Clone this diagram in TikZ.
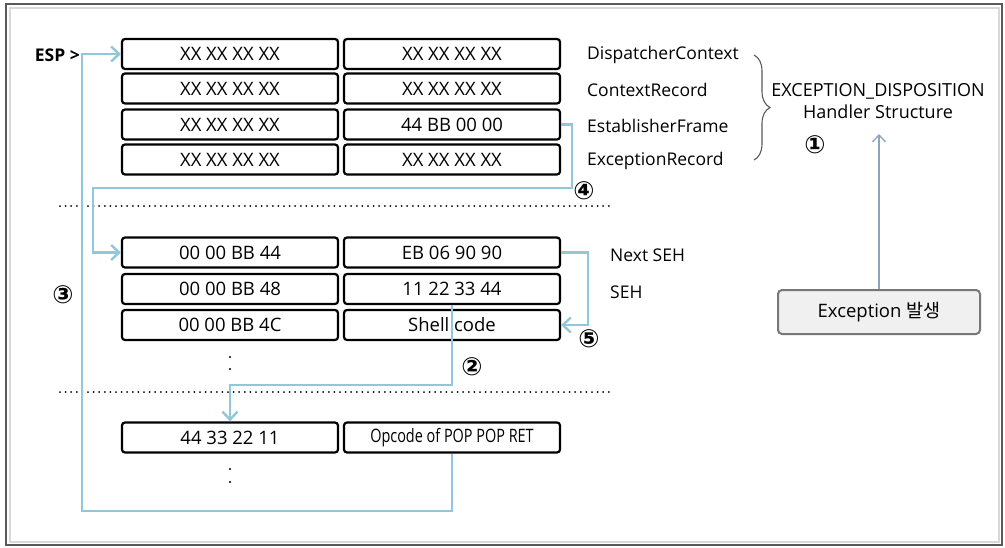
\documentclass[tikz,border=0pt]{standalone}
\usepackage{fontspec}
\usepackage{graphicx}
\setmainfont{Open Sans}
\newfontfamily\krfont{Noto Sans CJK KR}
\newfontfamily\circfont{DejaVu Sans}
\usetikzlibrary{arrows.meta,decorations.pathreplacing}
\definecolor{lblue}{HTML}{92C6DA}
\definecolor{garrow}{HTML}{8EA3BC}
\definecolor{framec}{HTML}{5A5A5A}
\definecolor{exfill}{HTML}{F0F0F0}
\definecolor{exborder}{HTML}{777777}
\begin{document}
\begin{tikzpicture}[x=1pt,y=-1pt,
  cell/.style={draw=black,line width=2.2pt,rounded corners=3pt,minimum width=216pt,minimum height=30pt,inner sep=0pt,font=\fontsize{18.5}{20}\selectfont},
  lbl/.style={anchor=west,inner sep=0pt,font=\fontsize{17.5}{20}\selectfont},
  num/.style={inner sep=0pt,font=\circfont\bfseries\fontsize{25}{26}\selectfont},
  link/.style={draw=lblue,line width=2.4pt},
  arr/.style={-{Straight Barb[length=8pt,width=15pt]}},
  dotline/.style={line width=2pt,dash pattern=on 0pt off 5.6pt,line cap=round},
  vdot/.style={fill=black},
]
\useasboundingbox (0,0) rectangle (1005,547);
\fill[white] (0,0) rectangle (1005,547);
% frame
\draw[framec,line width=2.5pt] (6,4) rectangle (1002,545);
\draw[gray!30,line width=2pt] (9.5,7.5) rectangle (998.5,541.5);

% top group
\node[cell] (a1) at (230,54) {XX XX XX XX};
\node[cell] (b1) at (452,54) {XX XX XX XX};
\node[cell] (a2) at (230,88.5) {XX XX XX XX};
\node[cell] (b2) at (452,88.5) {XX XX XX XX};
\node[cell] (a3) at (230,124.5) {XX XX XX XX};
\node[cell] (b3) at (452,124.5) {44 BB 00 00};
\node[cell] (a4) at (230,159.5) {XX XX XX XX};
\node[cell] (b4) at (452,159.5) {XX XX XX XX};

% middle group
\node[cell] (m1) at (230,252.5) {00 00 BB 44};
\node[cell] (n1) at (452,252.5) {EB 06 90 90};
\node[cell] (m2) at (230,289) {00 00 BB 48};
\node[cell] (n2) at (452,289) {11 22 33 44};
\node[cell] (m3) at (230,325) {00 00 BB 4C};
\node[cell] (n3) at (452,325) {Shell code};

% bottom group
\node[cell] (q1) at (230,437.5) {44 33 22 11};
\node[cell] (o1) at (452,437.5) {\scalebox{0.78}[1]{Opcode of POP POP RET}};

% dotted separators
\draw[dotline] (60,206) -- (610,206);
\draw[dotline] (60,392) -- (610,392);

% vertical ellipses
\fill[vdot] (230,357) circle (1.2pt);
\fill[vdot] (230,369) circle (1.2pt);
\fill[vdot] (230,469) circle (1.2pt);
\fill[vdot] (230,482) circle (1.2pt);
\fill[gray] (452,469) circle (1.2pt);
\fill[gray] (452,482) circle (1.2pt);

% labels
\node[lbl] (l1) at (587,55) {DispatcherContext};
\node[lbl] (l2) at (587,90) {ContextRecord};
\node[lbl] (l3) at (587,126) {EstablisherFrame};
\node[lbl] (l4) at (587,161) {ExceptionRecord};
\node[lbl] (l5) at (610,255) {Next SEH};
\node[lbl] (l6) at (610,292) {SEH};
\node[anchor=east,inner sep=0pt,font=\bfseries\fontsize{17.5}{20}\selectfont] (esp) at (80,55) {ESP >};

\draw[framec,line width=1.1pt,decorate,decoration={brace,amplitude=16pt}] (754,55) -- (754,160);

\node[align=center,inner sep=0pt,font=\fontsize{18}{22}\selectfont] (eh) at (878,101) {EXCEPTION\_DISPOSITION\\Handler Structure};

\node[draw=exborder,fill=exfill,line width=2pt,rounded corners=4pt,minimum width=202pt,minimum height=44pt,font=\fontsize{18.5}{20}\selectfont] (ev) at (879,312) {Exception {\krfont 발생}};
\coordinate (c1) at (879,134);
\draw[garrow,line width=1.3pt,-{Straight Barb[length=7pt,width=13pt]}] (ev.north) -- (c1);

% connectors
\coordinate (c3) at (82,511);
\draw[link,arr] (o1.south) |- (c3) |- (a1.west);
\coordinate (c4a) at (572,188);
\coordinate (c4b) at (93,188);
\draw[link,arr] (b3.east) -| (c4a) -- (c4b) |- (m1.west);
\coordinate (c5) at (588,290);
\draw[link,arr] (n1.east) -| (c5) |- (n3.east);
\coordinate (c2) at (452,385);
\draw[link,arr] (n2.south) -- (c2) -| (q1.north);

% step numbers
\node[num] (k1) at (815,145) {①};
\node[num] (k2) at (472,367) {②};
\node[num] (k3) at (63,295) {③};
\node[num] (k4) at (584,191) {④};
\node[num] (k5) at (589,339) {⑤};
\end{tikzpicture}
\end{document}
